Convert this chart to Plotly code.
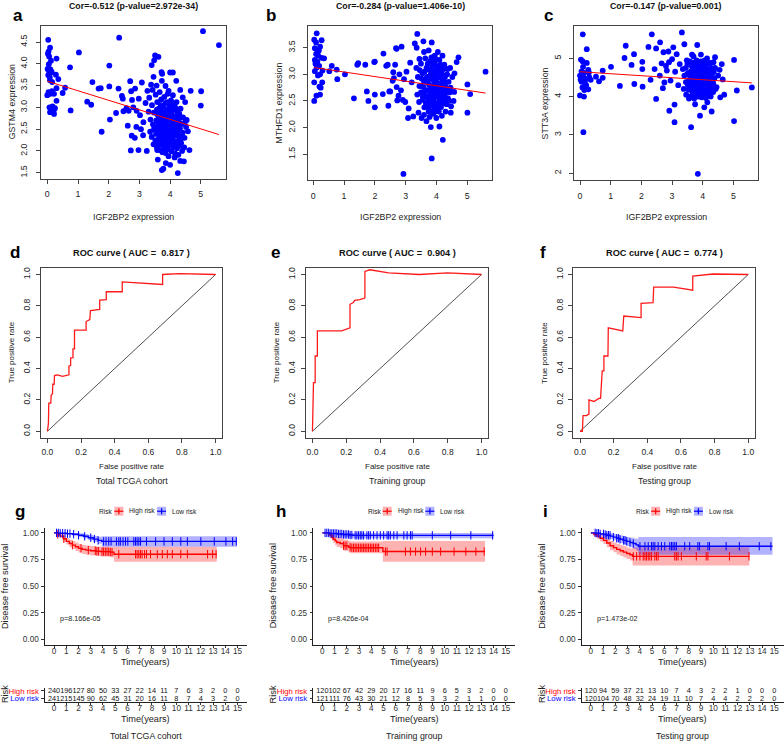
import numpy as np
import plotly.graph_objects as go

W, H = 784, 744
FONT = "Liberation Sans, Arial, Helvetica, sans-serif"

# ---------------- scatter data (IGF2BP2 vs gene) ----------------
GSTM4_PTS = [
 (0.03,4.55),(0.09,4.37),(0.02,4.23),(0.06,4.17),(0.04,4.28),(0.12,4.07),(0.05,3.99),(0.10,3.87),(0.06,3.83),
 (0.13,3.80),(0.03,3.74),(0.08,3.69),(0.09,3.62),(0.14,3.82),(0.04,3.35),(0.10,3.31),(0.00,3.28),(0.15,3.37),
 (0.07,3.00),(0.13,2.96),(0.20,2.91),(0.09,2.89),(0.22,2.85),(0.17,3.02),(0.30,3.15),(0.30,3.44),(0.28,3.75),
 (0.36,3.65),(0.30,4.12),(0.58,3.45),(0.50,3.33),(0.74,3.92),(0.76,2.93),(1.03,4.26),(0.22,3.31),(0.25,2.98),
 (0.19,2.92),(0.01,3.88),(0.16,3.58),
 (1.30,3.13),(1.43,3.06),(1.47,3.58),(1.67,3.43),(1.74,3.44),(1.77,2.44),(2.02,3.96),(2.02,3.48),(2.04,2.72),
 (2.24,2.87),(2.34,4.60),(2.32,3.43),(2.43,3.26),(2.46,3.20),(2.48,2.91),(2.62,2.58),(2.65,2.92),(2.70,3.60),
 (2.73,3.37),(2.75,2.35),(2.72,2.01),(2.76,3.17),(2.80,3.00),(2.86,3.43),(2.91,2.92),(2.90,2.55),(2.97,2.02),
 (2.98,3.20),(3.02,2.82),(3.08,3.57),(3.13,2.66),(3.12,2.36),(3.24,2.00),(3.26,3.38),(3.20,3.10),(2.58,2.98),
 (2.85,2.30),(3.05,2.50),
 (3.40,3.97),(3.48,4.08),(3.51,4.19),(3.62,4.16),(3.46,3.70),(3.72,3.81),(3.74,3.77),(4.00,3.80),(4.09,3.80),
 (4.20,3.61),(3.73,3.61),(3.95,3.38),(4.33,3.40),(3.56,3.50),(3.85,3.49),(3.38,3.52),
 (5.07,4.75),(5.59,4.43),(5.01,3.37),(5.00,3.04),(4.67,3.38),(4.63,2.02),(4.54,2.71),(4.41,3.23),(4.49,3.12),
 (4.58,2.45),(4.45,1.76),
 (3.73,1.56),(3.78,1.59),(4.25,1.49),(3.86,1.72),(4.33,1.77),(4.00,1.68),(3.60,1.80),(4.15,1.85),(3.95,1.88),
 (3.32,3.22),(3.41,3.05),(3.47,2.88),(3.53,3.29),(3.58,3.12),(3.63,2.97),(3.66,3.35),(3.69,2.81),(3.71,3.18),
 (3.75,3.02),(3.78,2.90),(3.81,3.24),(3.84,2.76),(3.86,3.10),(3.89,2.95),(3.92,3.31),(3.94,2.83),(3.97,3.06),
 (4.01,2.71),(4.03,3.16),(4.06,2.92),(4.09,3.28),(4.12,2.80),(4.15,3.02),(4.18,2.68),(4.21,3.12),(4.25,2.88),
 (4.29,2.74),(4.34,2.97),(4.38,2.62),
 (3.36,2.72),(3.44,2.61),(3.50,2.49),(3.55,2.70),(3.60,2.56),(3.64,2.41),(3.68,2.66),(3.72,2.52),(3.76,2.38),
 (3.79,2.63),(3.83,2.47),(3.87,2.33),(3.90,2.58),(3.93,2.44),(3.96,2.29),(3.99,2.55),(4.02,2.40),(4.05,2.60),
 (4.08,2.26),(4.11,2.50),(4.14,2.36),(4.17,2.57),(4.20,2.22),(4.24,2.46),(4.28,2.33),(4.32,2.52),(4.36,2.18),
 (4.41,2.42),(4.47,2.30),(4.52,2.55),
 (3.40,2.32),(3.46,2.15),(3.52,2.24),(3.57,2.08),(3.62,2.19),(3.67,2.02),(3.71,2.14),(3.75,1.97),(3.80,2.10),
 (3.85,1.95),(3.88,2.17),(3.91,2.04),(3.98,2.12),(4.04,1.99),(4.10,2.09),(4.16,1.94),(4.22,2.06),(4.27,1.91),
 (4.31,2.12),(4.39,2.00),(4.46,2.08),(3.35,2.44),(3.30,2.90),(3.43,3.40),(3.58,2.84),(3.82,2.88),(4.00,2.98),
 (4.23,2.90),(3.74,2.73),(3.95,2.66),(4.13,2.64),(3.62,2.73),(3.88,2.40),(4.07,2.78),
 (3.57,2.95),(3.61,2.62),(3.65,2.87),(3.67,2.33),(3.70,3.05),(3.73,2.44),(3.77,2.79),(3.79,2.22),(3.81,2.97),
 (3.83,2.57),(3.85,2.25),(3.87,2.86),(3.89,2.68),(3.91,3.12),(3.93,2.36),(3.95,2.95),(3.97,2.21),(3.99,2.83),
 (4.01,2.49),(4.03,2.87),(4.05,2.33),(4.07,3.08),(4.09,2.57),(4.11,2.95),(4.13,2.43),(4.15,2.75),(4.17,2.15),
 (4.19,2.97),(4.21,2.38),(4.23,2.65),(4.26,2.56),(4.30,2.85),(4.33,2.63),(4.37,2.36),(4.42,2.77),(4.50,2.68),
 (3.63,2.28),(3.69,2.48),(3.74,2.96),(3.76,2.60),(3.80,2.35),(3.86,2.53),(3.92,2.73),(3.98,2.42),(4.04,2.70),
 (4.10,2.39),(4.16,2.49),(4.22,2.78),(4.27,2.13),(3.54,2.39),(3.48,2.52),(3.58,2.02),(3.82,2.05),(4.06,2.15),
 (4.35,2.28),(3.66,2.50),(3.90,2.20),(4.12,2.23),(4.00,2.31),(3.72,2.30),
]
MTHFD1_PTS = [
 (0.11,3.77),(0.03,3.65),(0.09,3.60),(0.27,3.64),(0.22,3.52),(0.05,3.49),(0.13,3.41),(0.09,3.38),(0.16,3.35),
 (0.05,3.27),(0.13,3.24),(0.27,3.31),(0.35,3.30),(0.11,3.13),(0.19,3.16),(0.30,3.07),(0.05,3.06),(0.22,3.00),
 (0.52,3.06),(0.60,3.16),(0.76,3.09),(0.78,2.91),(1.03,3.00),(0.29,2.85),(0.03,2.85),(0.20,2.77),(0.24,2.75),
 (0.10,2.60),(0.03,2.50),(0.22,2.62),(0.15,2.98),(0.07,3.20),(0.18,3.45),
 (1.32,2.55),(1.46,3.21),(1.43,3.18),(1.69,3.18),(1.74,2.68),(1.79,2.50),(2.00,3.24),(2.00,2.62),(2.00,2.38),
 (2.28,3.39),(2.26,2.63),(2.37,3.16),(2.42,3.18),(2.44,2.41),(2.47,2.68),(2.60,3.04),(2.62,2.93),(2.66,3.18),
 (2.69,3.49),(2.71,3.48),(2.87,3.52),(2.71,2.76),(2.73,2.51),(2.77,2.60),(2.80,3.00),(2.91,2.52),(2.93,1.13),
 (2.95,2.91),(2.99,2.48),(3.03,3.05),(3.08,2.18),(3.15,3.22),(3.25,2.21),(3.30,3.58),(3.38,3.76),(3.36,3.50),
 (3.45,3.29),(3.58,3.62),(3.85,3.60),(3.82,2.01),(3.85,1.42),(4.21,1.77),(4.10,2.02),(4.47,2.28),(4.58,2.67),
 (4.56,2.50),(4.59,3.02),(4.66,3.23),(4.72,3.32),(5.01,2.81),(5.01,2.28),(5.10,2.63),(5.60,3.05),(2.50,2.68),
 (2.85,2.70),(3.10,2.36),(3.20,2.85),(2.58,2.88),(1.98,3.23),
 (3.35,3.12),(3.40,2.95),(3.45,2.78),(3.50,3.20),(3.55,3.02),(3.60,2.86),(3.64,3.30),(3.68,2.70),(3.72,3.10),
 (3.76,2.92),(3.80,3.25),(3.84,2.78),(3.88,3.05),(3.92,2.88),(3.95,3.35),(3.99,2.72),(4.02,3.15),(4.06,2.96),
 (4.10,3.27),(4.13,2.82),(4.17,3.08),(4.21,2.90),(4.26,3.18),(4.30,2.76),(4.35,3.00),(4.40,2.86),(4.45,3.12),
 (4.52,2.95),
 (3.38,2.62),(3.44,2.48),(3.50,2.66),(3.56,2.52),(3.61,2.38),(3.66,2.58),(3.70,2.45),(3.75,2.30),(3.79,2.56),
 (3.83,2.42),(3.87,2.62),(3.91,2.50),(3.95,2.36),(3.98,2.58),(4.03,2.46),(4.07,2.64),(4.11,2.52),(4.15,2.38),
 (4.19,2.60),(4.24,2.48),(4.28,2.62),(4.33,2.44),(4.38,2.55),(4.43,2.66),(4.48,2.40),
 (3.42,2.28),(3.52,2.18),(3.60,2.24),(3.68,2.12),(3.78,2.20),(3.90,2.26),(4.00,2.18),(4.08,2.30),(4.18,2.22),
 (4.30,2.30),(3.60,3.42),(3.75,3.45),(3.90,3.22),(4.05,3.42),(4.20,3.35),(3.70,2.95),(3.86,2.93),(4.00,2.85),
 (3.96,3.05),(4.08,2.75),(3.78,2.68),(3.94,2.70),(4.14,2.70),(3.58,2.76),(3.82,3.00),(4.04,3.05),(3.73,2.84),
 (3.52,2.92),
 (3.62,3.05),(3.65,2.70),(3.67,2.92),(3.70,2.58),(3.72,3.20),(3.74,2.50),(3.77,2.80),(3.79,3.08),(3.81,2.62),
 (3.83,2.92),(3.85,2.48),(3.87,3.15),(3.89,2.74),(3.91,2.98),(3.93,2.60),(3.95,3.20),(3.97,2.45),(3.99,2.90),
 (4.01,3.08),(4.03,2.65),(4.05,2.82),(4.07,3.12),(4.09,2.55),(4.11,2.95),(4.13,3.18),(4.15,2.62),(4.17,2.85),
 (4.19,3.00),(4.22,2.70),(4.25,2.55),(4.28,2.95),(4.31,2.85),(4.34,2.68),(4.37,3.10),(4.41,2.50),(4.46,2.75),
 (3.60,2.65),(3.66,2.45),(3.76,2.36),(3.88,2.30),(3.98,2.30),(4.10,2.38),(4.20,2.45),(3.68,3.12),(3.84,3.32),
 (3.98,3.28),(4.12,3.08),(3.50,2.78),(3.46,3.08),(3.56,2.58),(4.24,3.10),(4.00,2.60),(3.80,2.72),(3.94,2.82),
 (4.16,2.78),
]
STT3A_PTS = [
 (0.09,5.63),(0.22,5.24),(0.03,4.97),(0.09,4.92),(0.22,4.88),(0.05,4.66),(0.13,4.62),(0.00,4.55),(0.11,4.51),
 (0.05,4.39),(0.16,4.37),(0.30,4.51),(0.35,4.44),(0.27,4.70),(0.29,4.63),(0.52,4.52),(0.74,4.68),(0.74,4.49),
 (0.62,4.40),(0.08,4.24),(0.14,4.17),(0.27,4.19),(0.00,4.03),(0.13,4.00),(0.11,3.07),(0.06,4.60),(0.18,4.46),
 (0.02,4.45),(0.10,4.78),(0.20,4.30),
 (1.01,4.78),(1.30,4.28),(1.45,5.01),(1.49,5.33),(1.76,5.11),(1.68,4.83),(1.77,4.33),(2.03,4.91),(2.03,4.72),
 (2.04,4.26),(2.23,5.30),(2.34,5.63),(2.30,4.44),(2.43,4.72),(2.48,3.94),(2.48,5.26),(2.61,5.42),(2.66,4.87),
 (2.72,5.16),(2.83,4.68),(2.88,5.18),(2.75,4.37),(2.91,3.63),(3.04,5.29),(3.08,3.79),(3.08,3.33),(3.15,5.11),
 (3.32,5.68),(3.40,5.37),(3.62,3.20),(3.84,1.98),(3.91,3.50),(4.29,3.61),(4.40,5.03),(4.62,4.85),(4.57,3.98),
 (5.02,4.96),(5.02,3.36),(5.11,4.16),(5.60,4.24),(2.60,4.55),(2.80,4.80),(2.95,4.42),(3.10,4.65),(3.00,4.98),
 (2.70,4.22),(2.90,4.90),(3.20,4.30),(3.25,4.85),(4.50,4.55),(4.45,4.25),(4.55,4.70),(4.65,4.45),(4.70,4.05),
 (3.65,5.10),(3.82,5.35),(3.75,3.80),(4.05,3.72),(4.15,3.85),(3.55,3.95),
 (3.35,4.72),(3.40,4.55),(3.45,4.38),(3.50,4.85),(3.55,4.62),(3.60,4.45),(3.64,4.28),(3.68,4.78),(3.72,4.58),
 (3.76,4.40),(3.80,4.95),(3.84,4.22),(3.88,4.68),(3.92,4.50),(3.96,4.32),(4.00,4.82),(4.04,4.62),(4.08,4.15),
 (4.12,4.45),(4.16,4.72),(4.20,4.30),(4.25,4.58),(4.30,4.40),(4.36,4.65),(4.42,4.20),
 (3.38,4.20),(3.46,4.05),(3.54,4.18),(3.60,4.00),(3.66,4.12),(3.72,3.95),(3.78,4.10),(3.85,4.00),(3.90,4.16),
 (3.96,3.98),(4.02,4.10),(4.10,3.96),(4.18,4.08),(4.26,4.00),(4.34,4.12),
 (3.58,4.92),(3.70,5.05),(3.86,4.86),(3.94,5.10),(4.06,4.95),(4.14,5.00),(4.24,4.88),(4.35,4.90),(3.48,4.95),
 (3.62,4.65),(3.70,4.35),(3.78,4.70),(3.82,4.48),(3.90,4.38),(3.98,4.60),(4.02,4.38),(4.10,4.58),(4.14,4.28),
 (4.22,4.50),(3.74,4.22),(3.86,4.30),(3.94,4.78),(4.06,4.48),(4.18,4.62),(3.65,4.52),(3.52,4.30),(4.28,4.75),
 (4.32,4.25),
 (3.57,4.55),(3.61,4.22),(3.64,4.68),(3.67,4.42),(3.69,4.88),(3.71,4.15),(3.74,4.62),(3.76,4.30),(3.78,4.82),
 (3.80,4.18),(3.82,4.60),(3.84,4.38),(3.86,4.75),(3.88,4.10),(3.90,4.55),(3.92,4.25),(3.94,4.92),(3.96,4.45),
 (3.98,4.15),(4.00,4.68),(4.02,4.50),(4.04,4.25),(4.06,4.78),(4.08,4.35),(4.10,4.62),(4.12,4.15),(4.14,4.85),
 (4.16,4.40),(4.18,4.20),(4.21,4.68),(4.24,4.35),(4.27,4.52),(4.31,4.62),(4.34,4.35),(4.38,4.48),(4.40,4.75),
 (3.50,4.60),(3.45,4.75),(3.55,4.42),(3.62,4.82),(3.70,4.05),(3.85,4.05),(4.00,4.05),(4.15,4.02),(4.30,4.15),
 (3.58,4.35),(3.79,4.50),(3.95,4.62),(4.10,4.42),(4.20,4.55),
]
# regression lines: (intercept, slope)
FIT_GSTM4 = (3.60, -0.219)
FIT_MTHFD1 = (3.13, -0.086)
FIT_STT3A = (4.65, -0.052)
COR_TITLES = ["Cor=-0.512 (p-value=2.972e-34)", "Cor=-0.284 (p-value=1.406e-10)", "Cor=-0.147 (p-value=0.001)"]
GENES = ["GSTM4", "MTHFD1", "STT3A"]

# ---------------- ROC data ----------------
ROC_D_FPR = [0,0.006,0.008,0.02,0.022,0.03,0.032,0.04,0.042,0.06,0.09,0.128,0.128,0.138,0.138,0.152,0.152,0.161,0.161,
             0.23,0.23,0.252,0.256,0.311,0.311,0.35,0.35,0.445,0.445,0.685,0.685,0.787,1.0]
ROC_D_TPR = [0,0.05,0.18,0.18,0.23,0.24,0.30,0.30,0.355,0.36,0.35,0.36,0.415,0.42,0.468,0.47,0.525,0.525,0.645,
             0.645,0.70,0.713,0.77,0.777,0.836,0.84,0.89,0.89,0.953,0.936,1.0,1.006,1.0]
ROC_E_FPR = [0,0.006,0.016,0.016,0.029,0.029,0.173,0.193,0.222,0.222,0.24,0.25,0.28,0.31,0.31,0.34,0.45,0.63,0.8,1.0]
ROC_E_TPR = [0,0.31,0.31,0.48,0.48,0.64,0.64,0.65,0.66,0.81,0.82,0.835,0.84,0.85,1.02,1.03,1.01,1.0,1.01,1.0]
ROC_F_FPR = [0,0.014,0.018,0.038,0.053,0.053,0.083,0.112,0.122,0.126,0.132,0.142,0.142,0.166,0.168,0.254,0.26,0.363,
             0.363,0.434,0.438,0.556,0.67,0.67,0.79,1.0]
ROC_F_TPR = [0,0,0.1,0.1,0.11,0.2,0.19,0.21,0.21,0.29,0.385,0.385,0.48,0.48,0.66,0.64,0.735,0.725,0.816,0.82,0.92,
             0.92,0.9,0.99,1.003,1.0]
AUCS = ["0.817", "0.904", "0.774"]
GROUPS = ["Total TCGA cohort", "Training group", "Testing group"]

# ---------------- Kaplan-Meier data ----------------
G_HIGH_T  = [0,0.3,0.5,0.75,1.0,1.25,1.5,1.75,2.0,2.3,2.6,3.0,3.4,3.8,4.6,4.9,13.3]
G_HIGH_S  = [1.0,0.985,0.97,0.945,0.92,0.90,0.885,0.87,0.855,0.845,0.838,0.832,0.828,0.824,0.82,0.80,0.80]
G_HIGH_LO = [1.0,0.97,0.95,0.92,0.89,0.865,0.848,0.83,0.815,0.803,0.795,0.788,0.783,0.778,0.772,0.73,0.73]
G_HIGH_HI = [1.0,1.0,0.99,0.97,0.95,0.935,0.922,0.91,0.895,0.887,0.881,0.876,0.873,0.87,0.868,0.87,0.87]
G_HIGH_C  = [0.3,0.8,1.5,2.2,2.8,3.37,3.5,3.64,3.92,4.05,4.19,4.33,4.47,4.6,4.74,5.29,6.66,6.79,6.93,7.07,7.2,
             7.4,7.56,7.89,8.44,8.85,9.26,9.67,10.36,10.9,12.55,12.96,13.25]
G_LOW_T   = [0,0.5,1.0,1.5,2.0,2.4,2.8,3.2,3.6,3.9,14.95]
G_LOW_S   = [1.0,0.997,0.993,0.988,0.978,0.968,0.955,0.942,0.93,0.92,0.92]
G_LOW_LO  = [1.0,0.99,0.982,0.974,0.96,0.948,0.932,0.915,0.898,0.87,0.87]
G_LOW_HI  = [1.0,1.0,1.0,1.0,0.996,0.99,0.98,0.97,0.963,0.968,0.968]
G_LOW_C   = [0.2,0.35,0.5,0.7,0.9,1.1,1.3,1.6,2.0,2.5,3.0,3.3,3.6,4.05,4.25,4.47,4.66,5.1,5.29,5.42,5.64,5.84,
             6.03,6.52,6.66,6.79,6.93,7.07,7.56,8.3,8.99,9.67,10.36,10.9,12.0,13.1,14.05,14.6,14.9]

H_HIGH_T  = [0,0.5,0.63,0.8,0.9,1.05,1.18,1.45,1.73,2.14,2.3,4.95,13.3]
H_HIGH_S  = [1.0,0.99,0.975,0.955,0.94,0.925,0.91,0.90,0.88,0.865,0.86,0.825,0.825]
H_HIGH_LO = [1.0,0.97,0.95,0.925,0.905,0.885,0.868,0.855,0.832,0.815,0.808,0.73,0.73]
H_HIGH_HI = [1.0,1.0,1.0,0.99,0.98,0.968,0.958,0.95,0.935,0.925,0.92,0.925,0.925]
H_HIGH_C  = [1.73,1.86,2.0,2.27,2.41,2.55,2.68,2.82,2.96,3.1,3.23,3.37,3.5,3.64,3.78,3.92,4.05,4.19,4.33,4.47,4.6,
             5.15,5.29,6.79,7.2,7.62,8.03,8.44,8.99,9.67,10.77,11.73,12.55,13.23]
H_LOW_T   = [0,0.6,1.2,1.7,2.2,2.5,14.0]
H_LOW_S   = [1.0,0.995,0.99,0.985,0.98,0.977,0.977]
H_LOW_LO  = [1.0,0.985,0.975,0.965,0.957,0.95,0.95]
H_LOW_HI  = [1.0,1.0,1.0,1.0,1.0,1.0,1.0]
H_LOW_C   = [0.22,0.36,0.49,0.63,0.77,0.9,1.04,1.18,1.32,1.45,1.59,1.73,1.86,2.0,2.14,2.27,2.41,2.68,2.82,2.96,3.1,
             3.23,3.37,3.64,3.78,3.92,4.19,4.47,4.74,5.01,5.29,5.42,5.56,5.84,6.11,6.66,6.93,7.2,7.34,8.99,10.49,
             12.14,13.92]

I_HIGH_T  = [0,0.25,0.49,0.75,1.03,1.3,1.57,1.85,2.11,2.4,2.66,2.93,3.2,3.41,12.95]
I_HIGH_S  = [1.0,0.985,0.97,0.95,0.93,0.905,0.88,0.862,0.845,0.832,0.82,0.807,0.795,0.78,0.78]
I_HIGH_LO = [1.0,0.965,0.945,0.92,0.895,0.866,0.838,0.818,0.798,0.783,0.769,0.754,0.74,0.695,0.695]
I_HIGH_HI = [1.0,1.0,0.995,0.982,0.966,0.946,0.925,0.91,0.895,0.884,0.874,0.863,0.853,0.866,0.866]
I_HIGH_C  = [3.47,3.74,4.01,4.28,4.42,4.55,4.69,4.82,4.96,5.23,5.37,5.5,6.86,6.99,7.13,7.4,8.62,9.43,9.57,11.33,
             12.93]
I_LOW_T   = [0,0.4,0.76,1.05,1.3,1.6,1.84,2.1,2.38,2.65,2.93,3.2,3.47,3.7,3.88,14.85]
I_LOW_S   = [1.0,0.997,0.99,0.985,0.978,0.97,0.96,0.95,0.94,0.93,0.92,0.91,0.90,0.888,0.875,0.875]
I_LOW_LO  = [1.0,0.99,0.975,0.965,0.955,0.943,0.93,0.918,0.905,0.892,0.878,0.865,0.852,0.835,0.795,0.795]
I_LOW_HI  = [1.0,1.0,1.0,1.0,1.0,0.997,0.99,0.983,0.976,0.969,0.962,0.956,0.95,0.945,0.962,0.962]
I_LOW_C   = [0.35,0.49,0.62,0.76,1.03,1.17,1.3,1.44,1.57,1.84,2.11,2.25,2.38,2.66,2.79,2.93,3.2,3.47,4.01,4.42,
             4.69,4.96,5.09,5.23,5.5,5.77,6.04,6.45,6.59,6.72,6.86,6.99,7.67,8.08,8.75,8.89,9.57,9.7,11.06,12.14,
             13.77,14.72]

PVALS = ["p=8.166e-05", "p=8.426e-04", "p=1.473e-02"]
TIMES = list(range(16))
RISK_G_HIGH = [240,196,127,80,50,33,27,22,14,11,7,6,3,2,0,0]
RISK_G_LOW  = [241,215,145,90,62,45,31,20,16,11,8,7,4,3,2,0]
RISK_H_HIGH = [120,102,67,42,29,20,17,16,11,9,6,5,3,2,0,0]
RISK_H_LOW  = [121,111,76,43,30,21,12,8,5,3,3,2,1,1,0,0]
RISK_I_HIGH = [120,94,59,37,21,13,10,7,4,3,2,2,1,0,0,0]
RISK_I_LOW  = [120,104,70,48,32,24,19,11,10,7,4,4,2,2,2,0]

# ---------------- helpers ----------------
def fx(p): return p / W
def fy(p): return 1 - p / H

fig = go.Figure()
layout = dict(width=W, height=H, margin=dict(l=0, r=0, t=0, b=0), paper_bgcolor="white",
              plot_bgcolor="white", showlegend=False, font=dict(family=FONT, size=9, color="#222"))
annotations, shapes = [], []
counter = [0]

def add_axes(xpx, ypx, xkw, ykw):
    counter[0] += 1
    n = counter[0]
    xa, ya = ("xaxis", "yaxis") if n == 1 else (f"xaxis{n}", f"yaxis{n}")
    xr, yr = ("x", "y") if n == 1 else (f"x{n}", f"y{n}")
    layout[xa] = dict(domain=[fx(xpx[0]), fx(xpx[1])], anchor=yr, showgrid=False, zeroline=False, **xkw)
    layout[ya] = dict(domain=[fy(ypx[1]), fy(ypx[0])], anchor=xr, showgrid=False, zeroline=False, **ykw)
    return xr, yr

def txt(x, y, s, size, bold=False, color="#222", xanchor="center", angle=0):
    annotations.append(dict(x=fx(x), y=fy(y), xref="paper", yref="paper",
                            text=f"<b>{s}</b>" if bold else s, showarrow=False,
                            font=dict(size=size, color=color, family=FONT),
                            xanchor=xanchor, yanchor="middle", textangle=angle))

def r_axis(rng, vals, labels, angle=0, standoff=5, size=8.8):
    return dict(range=rng, tickmode="array", tickvals=vals, ticktext=labels, showline=True, mirror=True,
                linecolor="#444", linewidth=1, ticks="outside", ticklen=4, tickcolor="#444", tickwidth=1,
                tickfont=dict(size=size, color="#222"), tickangle=angle, ticklabelstandoff=standoff)

# ---------------- row 1: scatter plots ----------------
scatter_cfg = [
    (GSTM4_PTS, FIT_GSTM4, (41, 226), (25, 178.5), [1.36, 4.87], [1.5, 2.0, 2.5, 3.0, 3.5, 4.0, 4.5], [-0.205, 5.82], "a", 18),
    (MTHFD1_PTS, FIT_MTHFD1, (308.3, 491.7), (25, 180), [1.01, 3.91], [1.5, 2.0, 2.5, 3.0, 3.5], [-0.163, 5.80], "b", 270.5),
    (STT3A_PTS, FIT_STT3A, (574.3, 758), (25, 180), [1.81, 5.85], [2, 3, 4, 5], [-0.186, 5.80], "c", 548),
]
for i, (pts, fit, xpx, ypx, yrng, yt, xrng, letter, lx) in enumerate(scatter_cfg):
    ylab = [f"{v:.1f}" for v in yt] if i < 2 else [str(v) for v in yt]
    xr, yr = add_axes(xpx, ypx, r_axis(xrng, [0, 1, 2, 3, 4, 5], ["0", "1", "2", "3", "4", "5"], standoff=3),
                      r_axis(yrng, yt, ylab, angle=-90, standoff=5))
    xs = [p[0] for p in pts]
    ys = [p[1] for p in pts]
    fig.add_trace(go.Scatter(x=xs, y=ys, mode="markers", xaxis=xr, yaxis=yr,
                             marker=dict(color="#0000FF", size=5.8, line=dict(width=0))))
    lx0, lx1 = min(xs), max(xs)
    fig.add_trace(go.Scatter(x=[lx0, lx1], y=[fit[0] + fit[1] * lx0, fit[0] + fit[1] * lx1], mode="lines",
                             xaxis=xr, yaxis=yr, line=dict(color="#FF0000", width=1)))
    cx = (xpx[0] + xpx[1]) / 2
    txt(cx, 5, COR_TITLES[i], 8.8, bold=True, color="#111")
    txt(cx, 216.5, "IGF2BP2 expression", 8.8)
    txt(xpx[0] - 29, (ypx[0] + ypx[1]) / 2, f"{GENES[i]} expression", 8.8, angle=-90)
    txt(lx, 15, letter, 17, bold=True, color="#000")

# ---------------- row 2: ROC curves ----------------
roc_cfg = [
    (ROC_D_FPR, ROC_D_TPR, (40.7, 222.3), "d", 15),
    (ROC_E_FPR, ROC_E_TPR, (305.7, 488.3), "e", 275),
    (ROC_F_FPR, ROC_F_TPR, (573.3, 755), "f", 543),
]
ticks01 = [0, 0.2, 0.4, 0.6, 0.8, 1.0]
tick01_lab = ["0.0", "0.2", "0.4", "0.6", "0.8", "1.0"]
for i, (fpr, tpr, xpx, letter, lx) in enumerate(roc_cfg):
    xr, yr = add_axes(xpx, (268.3, 438.3), r_axis([-0.04, 1.04], ticks01, tick01_lab, standoff=2, size=8.5),
                      r_axis([-0.04, 1.04], ticks01, tick01_lab, angle=-90, standoff=2, size=8.5))
    fig.add_trace(go.Scatter(x=[0, 1], y=[0, 1], mode="lines", xaxis=xr, yaxis=yr,
                             line=dict(color="#222", width=0.8)))
    fig.add_trace(go.Scatter(x=fpr, y=tpr, mode="lines", xaxis=xr, yaxis=yr,
                             line=dict(color="#FF1A1A", width=1.3)))
    cx = (xpx[0] + xpx[1]) / 2
    txt(cx, 252.7, f"ROC curve ( AUC =\u00a0 {AUCS[i]} )", 9.2, bold=True, color="#111")
    txt(cx, 467.7, "False positive rate", 8.0)
    txt(cx, 481.7, GROUPS[i], 8.8)
    txt(xpx[0] - 29, 353, "True positive rate", 8.0, angle=-90)
    txt(lx, 253, letter, 17, bold=True, color="#000")

# ---------------- row 3: Kaplan-Meier curves + risk tables ----------------
def surv_at(t, s, c):
    idx = np.searchsorted(np.array(t), np.array(c), side="right") - 1
    return list(np.array(s)[idx])

def km_axis(rng, vals, labels, size=8.2, standoff=1):
    return dict(range=rng, tickmode="array", tickvals=vals, ticktext=labels, showline=True, mirror=False,
                linecolor="#222", linewidth=1, ticks="outside", ticklen=2.5, tickcolor="#333", tickwidth=1,
                tickfont=dict(size=size, color="#333"), ticklabelstandoff=standoff)

km_cfg = [
    (44.9, "g", 20,
     (G_HIGH_T, G_HIGH_S, G_HIGH_LO, G_HIGH_HI, G_HIGH_C), (G_LOW_T, G_LOW_S, G_LOW_LO, G_LOW_HI, G_LOW_C),
     RISK_G_HIGH, RISK_G_LOW),
    (313.2, "h", 281,
     (H_HIGH_T, H_HIGH_S, H_HIGH_LO, H_HIGH_HI, H_HIGH_C), (H_LOW_T, H_LOW_S, H_LOW_LO, H_LOW_HI, H_LOW_C),
     RISK_H_HIGH, RISK_H_LOW),
    (581.7, "i", 545,
     (I_HIGH_T, I_HIGH_S, I_HIGH_LO, I_HIGH_HI, I_HIGH_C), (I_LOW_T, I_LOW_S, I_LOW_LO, I_LOW_HI, I_LOW_C),
     RISK_I_HIGH, RISK_I_LOW),
]
RED, BLUE = "#FF0000", "#0000FF"
RED_F, BLUE_F = "rgba(255,0,0,0.30)", "rgba(0,0,255,0.30)"
xt = TIMES
xt_lab = [str(v) for v in TIMES]
for i, (left, letter, lx, high, low, rh, rl) in enumerate(km_cfg):
    xpx = (left, min(left + 201.8, 784))
    xr, yr = add_axes(xpx, (528.7, 646.4), km_axis([-0.75, 15.75], xt, xt_lab, standoff=-4),
                      km_axis([-0.05, 1.05], [0, 0.25, 0.5, 0.75, 1.0], ["0.00", "0.25", "0.50", "0.75", "1.00"]))
    for (t, s, lo, hi, c), fc in ((high, RED_F), (low, BLUE_F)):
        fig.add_trace(go.Scatter(x=t, y=lo, mode="lines", xaxis=xr, yaxis=yr,
                                 line=dict(width=0, shape="hv", color=fc), hoverinfo="skip"))
        fig.add_trace(go.Scatter(x=t, y=hi, mode="lines", xaxis=xr, yaxis=yr, fill="tonexty", fillcolor=fc,
                                 line=dict(width=0, shape="hv", color=fc), hoverinfo="skip"))
    for (t, s, lo, hi, c), col in ((high, RED), (low, BLUE)):
        fig.add_trace(go.Scatter(x=t, y=s, mode="lines", xaxis=xr, yaxis=yr,
                                 line=dict(width=1.4, shape="hv", color=col)))
        fig.add_trace(go.Scatter(x=c, y=surv_at(t, s, c), mode="markers", xaxis=xr, yaxis=yr,
                                 marker=dict(symbol="line-ns-open", size=6, color=col,
                                             line=dict(width=1, color=col))))
    annotations.append(dict(x=0.3, y=0.2, xref=xr, yref=yr, text=PVALS[i], showarrow=False, xanchor="left",
                            yanchor="middle", font=dict(size=7.2, color="#222", family=FONT)))
    cx = left + 101
    txt(cx, 663.5, "Time(years)", 9.2)
    txt(left - 40, 587.5, "Disease free survival", 9.2, angle=-90)
    txt(lx, 513, letter, 17, bold=True, color="#000")
    # legend (ggplot-style keys)
    ly = 512.3
    txt(left + 52.5, ly, "Risk", 6.6, xanchor="left")
    for kx, col, fc, lab, tx in ((left + 74, RED, RED_F, "High risk", left + 82.3),
                                 (left + 116.7, BLUE, BLUE_F, "Low risk", left + 125)):
        shapes.append(dict(type="rect", xref="paper", yref="paper", x0=fx(kx - 4.5), x1=fx(kx + 4.5),
                           y0=fy(ly + 4.5), y1=fy(ly - 4.5), fillcolor=fc, line=dict(width=0)))
        shapes.append(dict(type="line", xref="paper", yref="paper", x0=fx(kx - 4.5), x1=fx(kx + 4.5),
                           y0=fy(ly), y1=fy(ly), line=dict(color=col, width=1.2)))
        shapes.append(dict(type="line", xref="paper", yref="paper", x0=fx(kx), x1=fx(kx),
                           y0=fy(ly - 3), y1=fy(ly + 3), line=dict(color=col, width=1.2)))
        txt(tx, ly, lab, 6.6, xanchor="left")

    # risk table
    tx_, ty_ = add_axes(xpx, (689.5, 703.8), km_axis([-0.75, 15.75], xt, xt_lab, standoff=-4),
                        km_axis([0.59, 2.41], [1, 2],
                                [f'<span style="color:{BLUE}">Low risk</span>',
                                 f'<span style="color:{RED}">High risk</span>'], size=7.8))
    fig.add_trace(go.Scatter(x=TIMES, y=[2] * len(TIMES), mode="text", text=[str(v) for v in rh],
                             xaxis=tx_, yaxis=ty_, textfont=dict(size=7.3, color="#111", family=FONT)))
    fig.add_trace(go.Scatter(x=TIMES, y=[1] * len(TIMES), mode="text", text=[str(v) for v in rl],
                             xaxis=tx_, yaxis=ty_, textfont=dict(size=7.3, color="#111", family=FONT)))
    txt(cx, 720.5, "Time(years)", 9.2)
    txt(left - 40, 696, "Risk", 9.2, angle=-90)
    txt(cx, 738.3, GROUPS[i], 8.8)

layout["annotations"] = annotations
layout["shapes"] = shapes
fig.update_layout(**layout)
fig.write_html("out.html", config={"displayModeBar": False},
               post_script="document.body.style.margin='0px';document.body.style.padding='0px';")
